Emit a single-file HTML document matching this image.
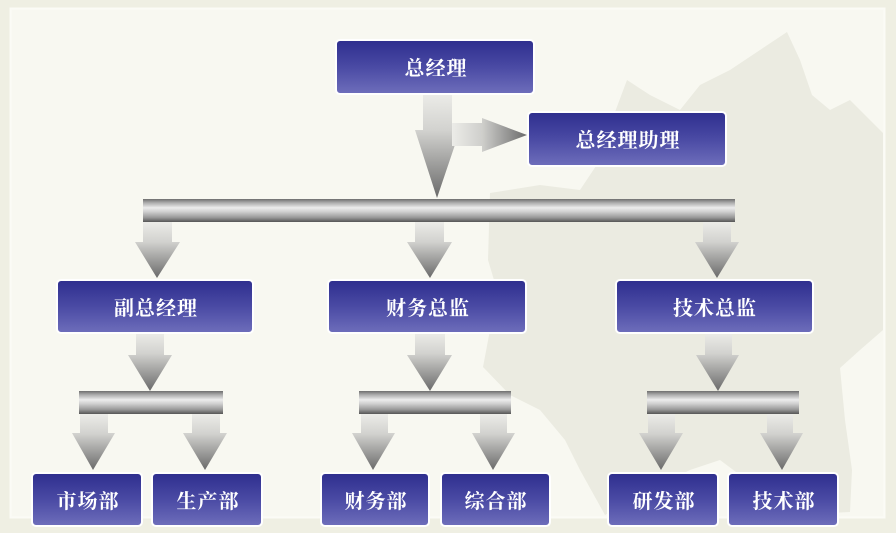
<!DOCTYPE html>
<html><head><meta charset="utf-8"><style>
html,body{margin:0;padding:0;background:#efefe3;}
svg{display:block;}
text{font-family:"Liberation Serif","Noto Serif CJK SC","Noto Sans CJK SC",serif;font-weight:bold;font-size:20px;fill:#ffffff;text-anchor:middle;letter-spacing:1px;}
</style></head><body>
<svg width="896" height="533" viewBox="0 0 896 533" xmlns="http://www.w3.org/2000/svg">
<defs>
<linearGradient id="box" x1="0" y1="0" x2="0" y2="1">
<stop offset="0" stop-color="#2e2e8e"/>
<stop offset="0.5" stop-color="#4a4aa4"/>
<stop offset="1" stop-color="#6e6ebb"/>
</linearGradient>
<linearGradient id="arr" x1="0" y1="0" x2="0" y2="1">
<stop offset="0" stop-color="#ececE8"/>
<stop offset="0.35" stop-color="#d2d2cf"/>
<stop offset="1" stop-color="#6a6a6a"/>
</linearGradient>
<linearGradient id="arrh" x1="0" y1="0" x2="1" y2="0">
<stop offset="0" stop-color="#ececE8"/>
<stop offset="0.4" stop-color="#cfcfcc"/>
<stop offset="1" stop-color="#6a6a6a"/>
</linearGradient>
<linearGradient id="bar" x1="0" y1="0" x2="0" y2="1">
<stop offset="0" stop-color="#6e6e6e"/>
<stop offset="0.15" stop-color="#a8a8a8"/>
<stop offset="0.38" stop-color="#ececec"/>
<stop offset="0.55" stop-color="#d0d0d0"/>
<stop offset="0.8" stop-color="#9a9a9a"/>
<stop offset="1" stop-color="#555555"/>
</linearGradient>
</defs>

<!-- panel -->
<rect x="10" y="8" width="875" height="510" fill="#f8f8f1"/>
<rect x="10.5" y="8.5" width="874" height="509" fill="none" stroke="#fbfbf6" stroke-width="2"/>

<!-- watermark leaf -->
<path fill="#ebebe1" d="M787,32 L800,60 L812,95 L830,110 L850,100 L883,133 L883,330 L860,350 L840,368 L845,420 L852,470 L850,512 L790,515 L760,490 L720,460 L690,470 L650,490 L605,515 L580,470 L565,440 L540,410 L510,395 L483,367 L490,330 L500,300 L488,260 L490,193 L540,185 L580,190 L600,160 L612,120 L627,80 L650,95 L680,110 L700,85 L730,70 L760,50 Z"/>

<!-- main arrow -->
<path fill="url(#arr)" d="M423,94 L452,94 L452,130 L460,130 L437,198 L415,130 L423,130 Z"/>
<!-- right arrow -->
<path fill="url(#arrh)" d="M452,123 L482,123 L482,118 L527,135 L482,152 L482,146 L452,146 Z"/>

<!-- main bar -->
<rect x="143" y="199" width="592" height="23" fill="url(#bar)"/>

<!-- level 2 arrows -->
<path fill="url(#arr)" d="M143,222 L172,222 L172,242 L180,242 L157,278 L135,242 L143,242 Z"/>
<path fill="url(#arr)" d="M415,222 L444,222 L444,242 L452,242 L430,278 L407,242 L415,242 Z"/>
<path fill="url(#arr)" d="M703,222 L731,222 L731,242 L739,242 L717,278 L695,242 L703,242 Z"/>

<!-- level 2 to bars -->
<path fill="url(#arr)" d="M136,333 L164,333 L164,355 L172,355 L150,391 L128,355 L136,355 Z"/>
<path fill="url(#arr)" d="M415,333 L445,333 L445,355 L452,355 L430,391 L407,355 L415,355 Z"/>
<path fill="url(#arr)" d="M705,333 L732,333 L732,355 L739,355 L718,391 L696,355 L705,355 Z"/>

<!-- level 3 bars -->
<rect x="79" y="391" width="144" height="23" fill="url(#bar)"/>
<rect x="359" y="391" width="152" height="23" fill="url(#bar)"/>
<rect x="647" y="391" width="152" height="23" fill="url(#bar)"/>

<!-- level 3 arrows -->
<path fill="url(#arr)" d="M80,414 L108,414 L108,433 L115,433 L93,470 L72,433 L80,433 Z"/>
<path fill="url(#arr)" d="M192,414 L220,414 L220,433 L227,433 L205,470 L183,433 L192,433 Z"/>
<path fill="url(#arr)" d="M361,414 L388,414 L388,433 L395,433 L373,470 L352,433 L361,433 Z"/>
<path fill="url(#arr)" d="M480,414 L507,414 L507,433 L515,433 L493,470 L472,433 L480,433 Z"/>
<path fill="url(#arr)" d="M648,414 L675,414 L675,433 L683,433 L661,470 L639,433 L648,433 Z"/>
<path fill="url(#arr)" d="M767,414 L793,414 L793,433 L803,433 L782,470 L760,433 L767,433 Z"/>

<!-- boxes -->
<g stroke="#ffffff" stroke-width="2" fill="url(#box)">
<rect x="336" y="40" width="198" height="54" rx="4"/>
<rect x="528" y="112" width="198" height="54" rx="4"/>
<rect x="57" y="280" width="196" height="53" rx="4"/>
<rect x="328" y="280" width="198" height="53" rx="4"/>
<rect x="616" y="280" width="197" height="53" rx="4"/>
<rect x="32" y="473" width="110" height="53" rx="4"/>
<rect x="152" y="473" width="110" height="53" rx="4"/>
<rect x="321" y="473" width="108" height="53" rx="4"/>
<rect x="441" y="473" width="109" height="53" rx="4"/>
<rect x="608" y="473" width="110" height="53" rx="4"/>
<rect x="728" y="473" width="110" height="53" rx="4"/>
</g>

<!-- labels -->
<text x="436" y="75">总经理</text>
<text x="628" y="147">总经理助理</text>
<text x="156" y="315">副总经理</text>
<text x="428" y="315">财务总监</text>
<text x="715" y="315">技术总监</text>
<text x="88" y="508">市场部</text>
<text x="208" y="508">生产部</text>
<text x="376" y="508">财务部</text>
<text x="496" y="508">综合部</text>
<text x="664" y="508">研发部</text>
<text x="784" y="508">技术部</text>
</svg>
</body></html>
